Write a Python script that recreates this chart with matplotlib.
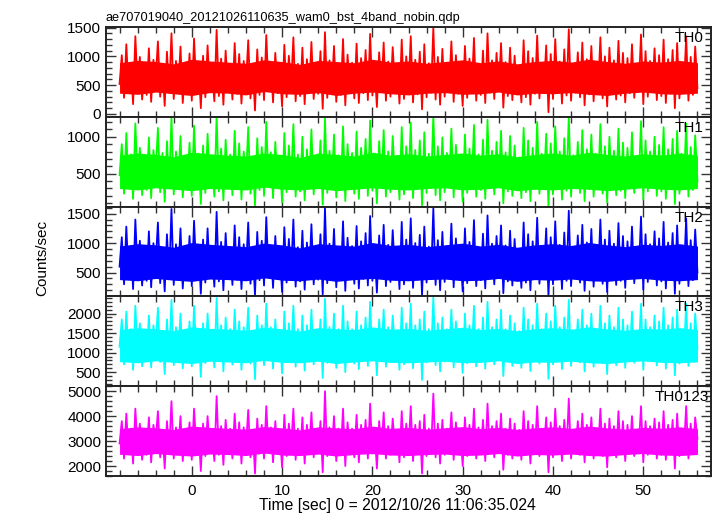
import numpy as np
import matplotlib
matplotlib.use('Agg')
import matplotlib.pyplot as plt
from matplotlib.ticker import MultipleLocator

plt.rcParams['font.family'] = ['Liberation Sans', 'DejaVu Sans']

title = 'ae707019040_20121026110635_wam0_bst_4band_nobin.qdp'
xlabel = 'Time [sec] 0 = 2012/10/26 11:06:35.024'
ylabel = 'Counts/sec'

# time bins: start and width (sec)
t_start = -8.0
t_bin = 0.25
# solid core of the light curve, read every 2 sec
core_bin = 2.0

bands = ['TH0', 'TH1', 'TH2', 'TH3', 'TH0123']
colors = ['#ff0000', '#00ff00', '#0000ff', '#00ffff', '#ff00ff']

th0 = [520, 1020, 280, 1210, 390, 880, 170, 1350, 460, 990, 250, 760, 330, 1140, 210, 940,
       610, 1260, 300, 850, 140, 1080, 370, 1400, 260, 920, 430, 1170, 190, 800, 340, 1050,
       230, 1310, 480, 890, 100, 1010, 290, 1190, 380, 740, 220, 1460, 310, 960, 160, 1100,
       420, 870, 250, 1230, 350, 1040, 180, 920, 500, 1280, 270, 820, 60, 1120, 330, 980,
       240, 1370, 410, 900, 200, 1060, 360, 780, 130, 1200, 290, 1010, 450, 1330, 220, 870,
       310, 1150, 170, 950, 400, 1250, 260, 840, 350, 1090, 90, 1420, 280, 930, 380, 1180,
       210, 860, 330, 1300, 150, 1030, 440, 890, 270, 1220, 190, 970, 360, 1110, 240, 1390,
       320, 800, 120, 1070, 390, 1240, 230, 910, 300, 1160, 470, 850, 180, 1290, 260, 1000,
       410, 1350, 200, 940, 340, 1080, 80, 1210, 290, 880, 370, 1500, 250, 990, 160, 1130,
       300, 890, 430, 1260, 210, 1020, 350, 790, 140, 1180, 280, 960, 390, 1320, 230, 870,
       330, 1100, 190, 1400, 370, 930, 260, 1060, 420, 1230, 110, 900, 310, 1150, 240, 1010,
       380, 820, 200, 1280, 290, 1090, 160, 970, 350, 1360, 270, 880, 440, 1190, 30, 1040,
       260, 1300, 400, 910, 180, 1120, 320, 1470, 230, 860, 370, 1070, 290, 1240, 150, 950,
       340, 1180, 220, 880, 410, 1330, 270, 1000, 130, 1150, 380, 930, 250, 1270, 320, 1060,
       200, 970, 360, 1210, 280, 840, 450, 1380, 170, 1090, 300, 920, 390, 1140, 240, 1020,
       310, 1290, 190, 950, 350, 1110, 100, 1230, 270, 880, 420, 1350, 230, 990, 330, 1170,
       450]

th1 = [480, 900, 230, 1050, 310, 760, 160, 1180, 380, 850, 210, 690, 280, 990, 170, 820,
       530, 1120, 250, 780, 120, 940, 330, 1260, 220, 800, 360, 1010, 180, 700, 290, 920,
       200, 1150, 400, 770, 90, 880, 240, 1040, 320, 650, 190, 1290, 260, 840, 140, 960,
       350, 760, 210, 1080, 300, 910, 150, 800, 420, 1130, 230, 720, 70, 980, 280, 860,
       200, 1200, 340, 790, 170, 930, 310, 680, 110, 1050, 250, 880, 380, 1170, 190, 760,
       260, 1000, 140, 830, 340, 1100, 220, 740, 300, 950, 80, 1250, 240, 810, 320, 1030,
       180, 750, 280, 1140, 130, 900, 370, 780, 230, 1070, 160, 850, 310, 970, 200, 1220,
       270, 700, 100, 940, 330, 1090, 190, 800, 250, 1010, 400, 740, 150, 1130, 220, 870,
       350, 1190, 170, 820, 290, 950, 70, 1060, 240, 770, 310, 1300, 210, 870, 140, 990,
       250, 780, 360, 1110, 180, 890, 300, 690, 120, 1030, 240, 840, 330, 1160, 190, 760,
       280, 960, 160, 1230, 310, 810, 220, 930, 350, 1080, 100, 790, 260, 1010, 200, 880,
       320, 720, 170, 1120, 250, 950, 130, 850, 300, 1200, 230, 770, 370, 1040, 60, 910,
       220, 1140, 340, 800, 150, 980, 270, 1290, 190, 750, 310, 930, 240, 1090, 130, 830,
       290, 1030, 190, 770, 350, 1170, 230, 870, 110, 1000, 320, 810, 210, 1110, 270, 920,
       170, 850, 300, 1060, 240, 740, 380, 1210, 150, 950, 260, 800, 330, 1000, 200, 890,
       260, 1130, 160, 830, 300, 970, 90, 1080, 230, 770, 350, 1180, 190, 860, 280, 1020,
       400]

th2 = [600, 1100, 300, 1280, 420, 950, 220, 1400, 500, 1040, 280, 860, 360, 1200, 250, 1000,
       650, 1350, 320, 900, 180, 1150, 400, 1580, 290, 980, 460, 1250, 230, 860, 380, 1120,
       270, 1380, 520, 950, 140, 1060, 330, 1250, 410, 800, 260, 1530, 350, 1020, 200, 1170,
       450, 930, 290, 1300, 380, 1100, 220, 980, 540, 1350, 310, 880, 120, 1190, 370, 1040,
       280, 1440, 440, 960, 240, 1120, 390, 840, 170, 1270, 330, 1070, 480, 1400, 260, 930,
       350, 1210, 210, 1010, 430, 1320, 300, 900, 380, 1150, 130, 1600, 320, 990, 410, 1240,
       250, 920, 370, 1370, 190, 1090, 470, 950, 310, 1290, 230, 1030, 390, 1170, 280, 1460,
       360, 860, 160, 1130, 420, 1310, 270, 970, 340, 1220, 500, 910, 220, 1360, 300, 1060,
       440, 1420, 240, 1000, 380, 1140, 110, 1280, 330, 940, 400, 1590, 290, 1050, 200, 1190,
       340, 950, 460, 1330, 250, 1080, 390, 850, 180, 1250, 320, 1020, 420, 1390, 270, 930,
       370, 1160, 230, 1470, 400, 990, 300, 1120, 450, 1300, 150, 960, 350, 1210, 280, 1070,
       410, 880, 240, 1350, 330, 1150, 200, 1030, 390, 1430, 310, 940, 470, 1250, 100, 1100,
       300, 1370, 430, 970, 220, 1180, 360, 1550, 270, 920, 410, 1130, 330, 1310, 190, 1010,
       380, 1240, 260, 940, 440, 1400, 310, 1060, 170, 1210, 420, 990, 290, 1340, 360, 1120,
       240, 1030, 400, 1280, 320, 900, 480, 1450, 210, 1150, 340, 980, 430, 1200, 280, 1080,
       350, 1360, 230, 1010, 390, 1170, 140, 1300, 310, 940, 450, 1420, 270, 1050, 370, 1230,
       500]

th3 = [1150, 1850, 700, 2050, 880, 1600, 560, 2200, 1000, 1750, 650, 1500, 800, 1950, 620, 1700,
       1200, 2150, 760, 1550, 450, 1850, 900, 2350, 680, 1650, 950, 2000, 600, 1500, 840, 1800,
       650, 2200, 1050, 1600, 380, 1750, 730, 2000, 880, 1400, 620, 2400, 780, 1700, 520, 1900,
       950, 1600, 690, 2100, 840, 1800, 560, 1650, 1100, 2150, 720, 1550, 320, 1950, 820, 1700,
       680, 2250, 930, 1650, 590, 1850, 860, 1450, 470, 2050, 760, 1750, 1000, 2200, 640, 1600,
       780, 1950, 540, 1700, 900, 2100, 700, 1550, 840, 1850, 350, 2380, 740, 1650, 880, 2000,
       610, 1600, 810, 2200, 500, 1800, 980, 1600, 720, 2050, 580, 1700, 860, 1900, 660, 2300,
       800, 1500, 420, 1850, 900, 2100, 640, 1650, 770, 1950, 1050, 1550, 560, 2150, 700, 1750,
       930, 2250, 600, 1700, 830, 1850, 300, 2050, 750, 1600, 880, 2420, 680, 1750, 520, 1900,
       770, 1600, 960, 2100, 620, 1800, 850, 1500, 480, 2000, 730, 1700, 900, 2200, 650, 1600,
       820, 1900, 590, 2300, 870, 1650, 700, 1850, 950, 2100, 400, 1600, 790, 1950, 660, 1750,
       890, 1550, 610, 2150, 760, 1850, 530, 1700, 850, 2250, 720, 1600, 980, 2000, 330, 1800,
       700, 2200, 920, 1650, 580, 1900, 810, 2350, 660, 1550, 880, 1850, 750, 2100, 520, 1700,
       840, 2000, 640, 1600, 930, 2200, 730, 1750, 450, 1950, 890, 1650, 680, 2150, 800, 1850,
       610, 1700, 870, 2050, 740, 1550, 1000, 2250, 560, 1850, 780, 1650, 900, 1950, 670, 1800,
       800, 2150, 590, 1700, 850, 1900, 420, 2100, 720, 1600, 950, 2250, 660, 1750, 820, 2000,
       1100]

th0123 = [2900, 3800, 2300, 4100, 2550, 3500, 2100, 4300, 2700, 3700, 2250, 3400, 2450, 3950, 2150, 3650,
          3000, 4200, 2350, 3450, 1900, 3800, 2600, 4600, 2300, 3550, 2650, 4000, 2200, 3400, 2500, 3750,
          2250, 4300, 2750, 3500, 1800, 3700, 2400, 4000, 2550, 3300, 2200, 4800, 2450, 3600, 2050, 3850,
          2650, 3500, 2300, 4100, 2500, 3750, 2100, 3550, 2800, 4250, 2350, 3450, 1700, 3900, 2500, 3650,
          2300, 4400, 2600, 3550, 2150, 3800, 2550, 3350, 1950, 4050, 2400, 3700, 2700, 4300, 2250, 3500,
          2450, 3950, 2100, 3650, 2600, 4150, 2350, 3450, 2500, 3800, 1750, 5000, 2400, 3550, 2550, 4000,
          2200, 3500, 2500, 4300, 2000, 3750, 2700, 3500, 2350, 4050, 2150, 3650, 2550, 3850, 2300, 4500,
          2500, 3400, 1900, 3800, 2600, 4150, 2300, 3600, 2450, 3900, 2750, 3450, 2150, 4200, 2350, 3700,
          2650, 4400, 2200, 3650, 2500, 3800, 1700, 4050, 2400, 3500, 2550, 4900, 2350, 3700, 2100, 3850,
          2450, 3500, 2700, 4150, 2250, 3750, 2550, 3400, 2000, 3950, 2400, 3650, 2600, 4300, 2300, 3550,
          2500, 3850, 2200, 4500, 2550, 3600, 2350, 3800, 2650, 4100, 1850, 3500, 2450, 3900, 2300, 3700,
          2600, 3450, 2250, 4200, 2450, 3800, 2100, 3650, 2550, 4400, 2400, 3500, 2700, 3950, 1750, 3750,
          2350, 4300, 2650, 3600, 2200, 3850, 2500, 4700, 2300, 3450, 2600, 3800, 2450, 4100, 2150, 3650,
          2550, 3950, 2300, 3500, 2650, 4300, 2400, 3700, 1950, 3900, 2600, 3600, 2350, 4200, 2500, 3800,
          2200, 3650, 2550, 4000, 2400, 3450, 2750, 4400, 2150, 3800, 2450, 3600, 2600, 3900, 2300, 3750,
          2450, 4200, 2250, 3650, 2550, 3850, 1900, 4100, 2400, 3500, 2650, 4400, 2300, 3700, 2500, 3950,
          3100]

# lower / upper edge of the solid part of each band
th0_lo = [360, 340, 380, 350, 320, 370, 360, 330, 390, 350, 340, 370, 320, 360, 380, 350, 330,
          360, 370, 340, 350, 380, 330, 360, 350, 370, 340, 320, 360, 380, 350, 340, 360]
th0_hi = [890, 930, 910, 870, 950, 920, 900, 880, 940, 910, 860, 930, 910, 890, 950, 900, 920,
          880, 910, 940, 890, 920, 870, 910, 930, 900, 950, 910, 880, 920, 900, 930, 890]
th1_lo = [300, 280, 310, 290, 270, 300, 290, 280, 320, 290, 280, 300, 270, 290, 310, 290, 280,
          300, 310, 280, 290, 310, 270, 290, 280, 300, 290, 270, 290, 310, 290, 280, 300]
th1_hi = [750, 780, 760, 730, 790, 770, 750, 740, 780, 760, 720, 780, 760, 740, 790, 750, 770,
          740, 760, 780, 750, 770, 730, 760, 780, 750, 790, 760, 740, 770, 750, 780, 750]
th2_lo = [380, 360, 400, 370, 350, 390, 380, 360, 410, 370, 360, 390, 350, 380, 400, 370, 360,
          380, 390, 360, 370, 400, 350, 380, 370, 390, 360, 350, 380, 400, 370, 360, 380]
th2_hi = [950, 990, 970, 930, 1010, 980, 960, 940, 1000, 970, 920, 990, 970, 950, 1010, 960, 980,
          940, 970, 1000, 950, 980, 930, 970, 990, 960, 1010, 970, 940, 980, 960, 990, 950]
th3_lo = [770, 740, 790, 750, 720, 780, 760, 740, 800, 750, 740, 780, 720, 760, 790, 750, 740,
          760, 780, 740, 750, 790, 720, 760, 750, 780, 740, 720, 760, 790, 750, 740, 760]
th3_hi = [1590, 1640, 1610, 1560, 1660, 1620, 1600, 1570, 1650, 1610, 1550, 1640, 1610, 1590, 1660, 1600, 1620,
          1570, 1610, 1650, 1590, 1620, 1560, 1610, 1640, 1600, 1660, 1610, 1570, 1620, 1600, 1640, 1590]
th0123_lo = [2470, 2420, 2500, 2440, 2400, 2480, 2460, 2420, 2520, 2440, 2420, 2480, 2400, 2460, 2500, 2440, 2420,
             2460, 2480, 2420, 2440, 2500, 2400, 2460, 2440, 2480, 2420, 2400, 2460, 2500, 2440, 2420, 2460]
th0123_hi = [3500, 3570, 3530, 3470, 3600, 3550, 3510, 3480, 3580, 3530, 3450, 3570, 3530, 3500, 3600, 3510, 3550,
             3480, 3530, 3580, 3500, 3550, 3470, 3530, 3570, 3510, 3600, 3530, 3480, 3550, 3510, 3570, 3500]

series = [th0, th1, th2, th3, th0123]
cores = [(th0_lo, th0_hi), (th1_lo, th1_hi), (th2_lo, th2_hi), (th3_lo, th3_hi), (th0123_lo, th0123_hi)]
ylims = [(-50, 1510), (55, 1270), (95, 1620), (140, 2440), (1600, 5200)]
ymajor = [500, 500, 500, 500, 1000]
yminor = [100, 100, 100, 100, 200]
label_x = [0.988, 0.988, 0.988, 0.988, 0.997]

fig, axes = plt.subplots(5, 1, sharex=True, figsize=(7.17, 5.16), dpi=100)
fig.subplots_adjust(left=106/717, right=711/717, top=1-27/516, bottom=1-476/516, hspace=0)

for k in range(len(axes)):
    ax = axes[k]
    y = np.array(series[k])
    t = t_start + t_bin * np.arange(len(y))
    lo, hi = cores[k]
    tc = t_start + core_bin * np.arange(len(lo))
    ax.fill_between(tc, lo, hi, color=colors[k], lw=0)
    ax.plot(t, y, color=colors[k], lw=1.3)
    ax.set_ylim(ylims[k])
    ax.set_xlim(-9.5, 57.5)
    ax.yaxis.set_major_locator(MultipleLocator(ymajor[k]))
    ax.yaxis.set_minor_locator(MultipleLocator(yminor[k]))
    ax.xaxis.set_major_locator(MultipleLocator(10))
    ax.xaxis.set_minor_locator(MultipleLocator(2))
    ax.tick_params(which='both', direction='in', top=True, right=True, labelsize=11,
                   color='#333333')
    ax.tick_params(which='major', length=7, width=1)
    ax.tick_params(which='minor', length=4, width=1)
    ax.tick_params(axis='x', pad=6)
    for sp in ax.spines.values():
        sp.set_linewidth(1.4)
        sp.set_color('#222222')
    ax.text(label_x[k], 0.955, bands[k], transform=ax.transAxes, ha='right', va='top', fontsize=11)
    if k < len(axes) - 1:
        ax.tick_params(labelbottom=False)

axes[0].set_title(title, loc='left', fontsize=9.2, pad=4)
axes[-1].set_xlabel(xlabel, fontsize=11.3)
axes[-1].xaxis.set_label_coords((397 - 106) / 605, -0.25)
fig.text(42/717, 0.5, ylabel, rotation=90, ha='center', va='center', fontsize=11)

plt.savefig('out.png')
